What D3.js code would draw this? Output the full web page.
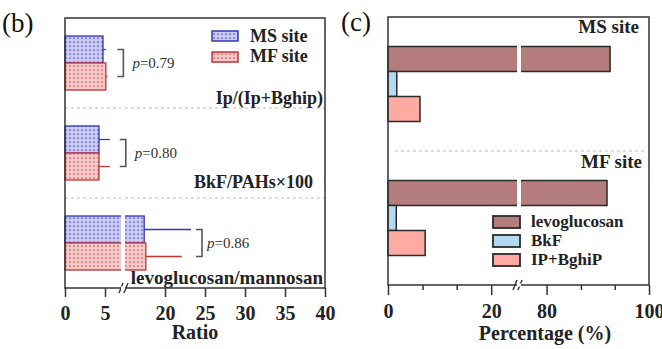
<!DOCTYPE html>
<html>
<head>
<meta charset="utf-8">
<script src="https://cdn.jsdelivr.net/npm/d3@7"></script>
<style>
  body { margin: 0; background: #fff; }
  svg { display: block; font-family: "Liberation Serif", "Times New Roman", serif; }
  .frame { fill: none; stroke: #333; stroke-width: 1.5; }
  .sep { stroke: #bbb; stroke-dasharray: 3,3; stroke-width: 1; }
</style>
</head>
<body>
<script>
// panel (b) data: ratios
const ratioCats = ["Ip/(Ip+Bghip)", "BkF/PAHs×100", "levoglucosan/mannosan"];
const msRatio = [4.75, 4.25, 17.4];
const mfRatio = [5.1, 4.25, 17.6];
const msErr = [5.1, 5.6, 23.25];   // upper end of error bar
const mfErr = [5.3, 5.6, 22.1];
const pValues = ["0.79", "0.80", "0.86"];
const ratioTicks = [0, 5, 20, 25, 30, 35, 40];

// panel (c) data: percentages
const sites = ["MS site", "MF site"];
const species = ["levoglucosan", "BkF", "IP+BghiP"];
const levo = [92.4, 91.8];
const bkf = [1.7, 1.6];
const ipb = [6.2, 7.2];
const pctMajor = [0, 20, 80, 100];
const pctMinor = [6.7, 13.3, 86.7, 93.3];

const W = 662, H = 349;
const svg = d3.select("body").append("svg").attr("width", W).attr("height", H);

// dotted fill patterns
const defs = svg.append("defs");
function dotPattern(id, bg, dot) {
  const p = defs.append("pattern").attr("id", id)
    .attr("width", 4).attr("height", 4).attr("patternUnits", "userSpaceOnUse");
  p.append("rect").attr("width", 4).attr("height", 4).attr("fill", bg);
  p.append("circle").attr("cx", 2).attr("cy", 2).attr("r", 0.85).attr("fill", dot);
}
dotPattern("msPat", "#cbcbf2", "#4f4fc8");
dotPattern("mfPat", "#f3caca", "#c84f4f");
const siteStyle = {
  MS: {fill: "url(#msPat)", stroke: "#3434b8"},
  MF: {fill: "url(#mfPat)", stroke: "#c43434"}
};

// ---------- panel (b) ----------
const bL = 65, bR = 325, bT = 18, bB = 288;
// broken axis: 0-7 then 15-40
const x = d3.scaleLinear().domain([0, 7, 15, 40]).range([bL, bL + 56, bL + 60, bR]);
const y = d3.scaleBand().domain(ratioCats).range([bT, bB]);
const ySite = d3.scaleBand().domain(["MS", "MF"]).range([0, y.bandwidth()]).paddingOuter(0.667);

const gb = svg.append("g");

// separators
gb.selectAll(".sep").data(ratioCats.slice(0, 2)).enter().append("line")
  .attr("class", "sep")
  .attr("x1", bL).attr("x2", bR)
  .attr("y1", d => y(d) + y.bandwidth()).attr("y2", d => y(d) + y.bandwidth());

const rows = ratioCats.map((c, i) => [
  {cat: c, site: "MS", v: msRatio[i], e: msErr[i]},
  {cat: c, site: "MF", v: mfRatio[i], e: mfErr[i]}
]).flat();

// error bars
gb.selectAll(".err").data(rows).enter().append("line")
  .attr("x1", d => x(d.v)).attr("x2", d => x(d.e))
  .attr("y1", d => y(d.cat) + ySite(d.site) + ySite.bandwidth() / 2)
  .attr("y2", d => y(d.cat) + ySite(d.site) + ySite.bandwidth() / 2)
  .attr("stroke", d => siteStyle[d.site].stroke).attr("stroke-width", 1.3);

// bars
gb.selectAll(".bar").data(rows).enter().append("rect")
  .attr("x", x(0)).attr("width", d => x(d.v) - x(0))
  .attr("y", d => y(d.cat) + ySite(d.site))
  .attr("height", ySite.bandwidth())
  .attr("fill", d => siteStyle[d.site].fill)
  .attr("stroke", d => siteStyle[d.site].stroke).attr("stroke-width", 1.3);

// white gap where the axis is broken
gb.append("rect").attr("x", x(7)).attr("width", x(15) - x(7))
  .attr("y", bT + 1).attr("height", bB - bT - 2).attr("fill", "#fff");

// significance brackets
ratioCats.forEach((c, i) => {
  const y1 = y(c) + ySite("MS") + ySite.bandwidth() / 2;
  const y2 = y(c) + ySite("MF") + ySite.bandwidth() / 2;
  const bx = x(Math.max(msErr[i], mfErr[i])) + (i === 2 ? 11 : 16);
  gb.append("path")
    .attr("d", `M${bx - 6},${y1}H${bx}V${y2}H${bx - 6}`)
    .attr("fill", "none").attr("stroke", "#555").attr("stroke-width", 1.6);
  const t = gb.append("text").attr("x", bx + (i === 2 ? 5 : 9)).attr("y", (y1 + y2) / 2 + 5)
    .attr("font-size", 15).attr("fill", "#333");
  t.append("tspan").attr("font-style", "italic").text("p");
  t.append("tspan").text("=" + pValues[i]);
});

// category labels
gb.selectAll(".cat").data(ratioCats).enter().append("text")
  .attr("x", (d, i) => i === 1 ? bR - 12 : bR - 2)
  .attr("y", (d, i) => y(d) + y.bandwidth() - 4 - (i === 1 ? 6 : 0))
  .attr("text-anchor", "end").attr("font-weight", "bold")
  .attr("font-size", (d, i) => i === 2 ? 19 : 18).attr("fill", "#222")
  .text(d => d);

// frame
gb.append("rect").attr("class", "frame").attr("x", bL).attr("y", bT)
  .attr("width", bR - bL).attr("height", bB - bT);

// x axis
const axB = gb.append("g").attr("transform", `translate(0,${bB})`)
  .call(d3.axisBottom(x).tickValues(ratioTicks).tickSize(9).tickPadding(9));
axB.select(".domain").remove();
axB.selectAll("line").attr("stroke", "#333").attr("stroke-width", 1.5);
axB.selectAll("text").attr("font-size", 20).attr("font-weight", "bold")
  .attr("font-family", "Liberation Serif").attr("fill", "#222");
// break marks
[0, 5].forEach(o => gb.append("line")
  .attr("x1", x(7) - 2 + o).attr("y1", bB + 5).attr("x2", x(7) + 2 + o).attr("y2", bB - 5)
  .attr("stroke", "#333").attr("stroke-width", 1.4));
gb.append("rect").attr("x", x(7)).attr("y", bB - 1.5).attr("width", x(15) - x(7)).attr("height", 3).attr("fill", "#fff");

gb.append("text").attr("x", 195).attr("y", 339).attr("text-anchor", "middle")
  .attr("font-size", 20).attr("font-weight", "bold").attr("fill", "#222").text("Ratio");

// legend
const legB = gb.append("g");
["MS", "MF"].forEach((s, i) => {
  legB.append("rect").attr("x", 212).attr("y", 31 + i * 21).attr("width", 26).attr("height", 10)
    .attr("fill", siteStyle[s].fill).attr("stroke", siteStyle[s].stroke).attr("stroke-width", 1.5);
  legB.append("text").attr("x", 250).attr("y", 42 + i * 20).attr("font-size", 18)
    .attr("font-weight", "bold").attr("fill", "#222").text(s + " site");
});

svg.append("text").attr("x", 2).attr("y", 32).attr("font-size", 27).attr("fill", "#111").text("(b)");

// ---------- panel (c) ----------
const cL = 388, cR = 649, cT = 17, cB = 285;
const xc = d3.scaleLinear().domain([0, 25, 75, 100]).range([cL, cL + 129, cL + 133, cR]);
const yc = d3.scaleBand().domain(sites).range([cT, cB]);
const ySp = d3.scaleBand().domain(species).range([0, yc.bandwidth()]).paddingOuter(1.18);
const spColor = {"levoglucosan": "#b47c7c", "BkF": "#b4daf2", "IP+BghiP": "#ffaaa2"};

const gc = svg.append("g");
gc.append("line").attr("class", "sep").attr("x1", cL + 7).attr("x2", cR - 4)
  .attr("y1", yc(sites[1])).attr("y2", yc(sites[1]));

const crows = sites.map((s, i) => [
  {site: s, sp: "levoglucosan", v: levo[i]},
  {site: s, sp: "BkF", v: bkf[i]},
  {site: s, sp: "IP+BghiP", v: ipb[i]}
]).flat();

gc.selectAll(".cbar").data(crows).enter().append("rect")
  .attr("x", xc(0)).attr("width", d => xc(d.v) - xc(0))
  .attr("y", d => yc(d.site) + ySp(d.sp)).attr("height", ySp.bandwidth())
  .attr("fill", d => spColor[d.sp]).attr("stroke", "#2a2a2a").attr("stroke-width", 1.5);

gc.append("rect").attr("x", xc(25)).attr("width", xc(75) - xc(25))
  .attr("y", cT + 1).attr("height", cB - cT - 2).attr("fill", "#fff");

gc.selectAll(".site").data(sites).enter().append("text")
  .attr("x", (d, i) => i === 0 ? cR - 10 : cR - 7)
  .attr("y", (d, i) => yc(d) + 16 + (i === 0 ? 0 : 1))
  .attr("text-anchor", "end").attr("font-size", 19).attr("font-weight", "bold")
  .attr("fill", "#222").text(d => d);

gc.append("rect").attr("class", "frame").attr("x", cL).attr("y", cT)
  .attr("width", cR - cL).attr("height", cB - cT);

const axC = gc.append("g").attr("transform", `translate(0,${cB})`)
  .call(d3.axisBottom(xc).tickValues(pctMajor).tickSize(10).tickPadding(9));
axC.select(".domain").remove();
axC.selectAll("line").attr("stroke", "#333").attr("stroke-width", 1.5);
axC.selectAll("text").attr("font-size", 20).attr("font-weight", "bold")
  .attr("font-family", "Liberation Serif").attr("fill", "#222");
const axCm = gc.append("g").attr("transform", `translate(0,${cB})`)
  .call(d3.axisBottom(xc).tickValues(pctMinor).tickSize(5).tickFormat(""));
axCm.select(".domain").remove();
axCm.selectAll("line").attr("stroke", "#333").attr("stroke-width", 1.5);

[0, 5].forEach(o => gc.append("line")
  .attr("x1", xc(25) - 4 + o).attr("y1", cB + 5).attr("x2", xc(25) + o).attr("y2", cB - 5)
  .attr("stroke", "#333").attr("stroke-width", 1.4));
gc.append("rect").attr("x", xc(25)).attr("y", cB - 1.5).attr("width", xc(75) - xc(25)).attr("height", 3).attr("fill", "#fff");

gc.append("text").attr("x", 545).attr("y", 340).attr("text-anchor", "middle")
  .attr("font-size", 20).attr("font-weight", "bold").attr("fill", "#222").text("Percentage (%)");

// legend
species.forEach((s, i) => {
  gc.append("rect").attr("x", 493).attr("y", 216 + i * 19).attr("width", 27).attr("height", 12)
    .attr("fill", spColor[s]).attr("stroke", "#2a2a2a").attr("stroke-width", 1.8);
  gc.append("text").attr("x", 531).attr("y", 227 + i * 19).attr("font-size", 17)
    .attr("font-weight", "bold").attr("fill", "#222").text(s);
});

svg.append("text").attr("x", 341).attr("y", 31).attr("font-size", 27).attr("fill", "#111").text("(c)");
</script>
</body>
</html>
